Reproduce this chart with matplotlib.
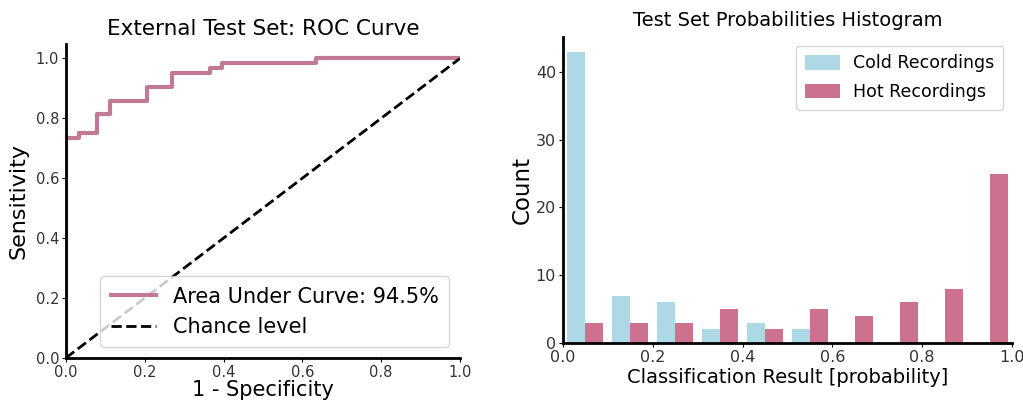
import numpy as np
import matplotlib
matplotlib.use("Agg")
import matplotlib.pyplot as plt

# ROC points (false positive rate, true positive rate)
fpr = [0.0, 0.0, 0.032, 0.032, 0.079, 0.079, 0.111, 0.111, 0.206, 0.206,
       0.270, 0.270, 0.365, 0.365, 0.397, 0.397, 0.635, 0.635, 1.0]
tpr = [0.0, 0.734, 0.734, 0.750, 0.750, 0.813, 0.813, 0.859, 0.859, 0.906,
       0.906, 0.953, 0.953, 0.969, 0.969, 0.984, 0.984, 1.0, 1.0]
auc_label = "Area Under Curve: 94.5%"

# histogram counts per 0.1 bin
bin_edges = [0.0, 0.1, 0.2, 0.3, 0.4, 0.5, 0.6, 0.7, 0.8, 0.9, 1.0]
cold_counts = [43, 7, 6, 2, 3, 2, 0, 0, 0, 0]
hot_counts = [3, 3, 3, 5, 2, 5, 4, 6, 8, 25]

pink = "#cc718e"
blue = "#add8e6"

fig = plt.figure(figsize=(10.23, 4.03), dpi=100)
ax1 = fig.add_axes([0.0645, 0.112, 0.385, 0.78])
ax2 = fig.add_axes([0.5503, 0.149, 0.439, 0.759])

for ax in (ax1, ax2):
    ax.spines["top"].set_visible(False)
    ax.spines["right"].set_visible(False)
    ax.spines["left"].set_linewidth(2)
    ax.spines["bottom"].set_linewidth(2)
    ax.tick_params(labelcolor="#333333", length=3, pad=2)
ax1.tick_params(labelsize=10.5)
ax2.tick_params(labelsize=11.5)

# ---- ROC
ax1.plot(fpr, tpr, color="#c27a94", lw=3, label=auc_label)
ax1.plot([0, 1], [0, 1], "k--", lw=2, label="Chance level")
ax1.set_xlim(0, 1)
ax1.set_ylim(0, 1.05)
ax1.set_title("External Test Set: ROC Curve", fontsize=15.5, pad=6)
ax1.set_xlabel("1 - Specificity", fontsize=15, labelpad=0)
ax1.set_ylabel("Sensitivity", fontsize=16, labelpad=5)
ax1.legend(loc="lower right", fontsize=15, borderpad=0.5, handlelength=2.2)

# ---- histogram (two side-by-side bars per bin, 80% of bin width)
left_edges = np.array(bin_edges[:-1])
bw = 0.1
ax2.bar(left_edges + 0.1 * bw, cold_counts, width=0.4 * bw, align="edge",
        color=blue, label="Cold Recordings")
ax2.bar(left_edges + 0.5 * bw, hot_counts, width=0.4 * bw, align="edge",
        color=pink, label="Hot Recordings")
ax2.set_xlim(0, 1)
ax2.set_ylim(0, 45.15)
ax2.set_yticks([0, 10, 20, 30, 40])
ax2.set_title("Test Set Probabilities Histogram", fontsize=14, pad=8)
ax2.set_xlabel("Classification Result [probability]", fontsize=14, labelpad=2)
ax2.set_ylabel("Count", fontsize=16.5, labelpad=1)
ax2.legend(loc="upper right", fontsize=12.5, labelspacing=0.6,
           handleheight=0.9, handlelength=2.0, borderpad=0.5)

fig.savefig("out.png", dpi=100)
